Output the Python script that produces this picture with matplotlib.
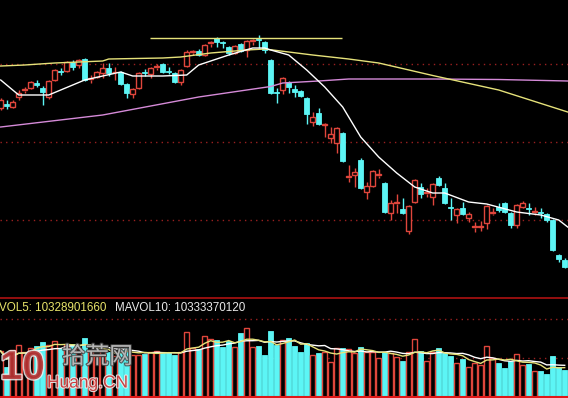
import matplotlib
matplotlib.use('Agg')
import matplotlib.pyplot as plt
import numpy as np
import pandas as pd
from matplotlib import patheffects as pe

# ---------------- data ----------------
opens = [4636, 4668, 4644, 4724, 4776, 4796, 4836, 4796, 4724, 4860,
         4928, 4932, 5004, 4980, 5028, 4864, 4884, 4916, 4956, 4920,
         4924, 4828, 4748, 4796, 4920, 4908, 4960, 4988, 4928, 4916,
         4844, 4972, 5080, 5092, 5060, 5152, 5196, 5160, 5124, 5076,
         5148, 5100, 5168, 5184, 5164, 5020, 4760, 4780, 4844, 4788,
         4772, 4716, 4524, 4596, 4500, 4396, 4356, 4436, 4080, 4100,
         4220, 3964, 4012, 4096, 4036, 3796, 3872, 3828, 3652, 3884,
         4004, 3952, 3924, 4076, 3996, 3840, 3780, 3836, 3756, 3680,
         3684, 3716, 3792, 3844, 3876, 3796, 3700, 3844, 3832, 3800,
         3800, 3788, 3740, 3460, 3420]
highs = [4716, 4700, 4700, 4780, 4804, 4852, 4860, 4812, 4860, 4948,
         4956, 5012, 5020, 5028, 5036, 4900, 4932, 4996, 4996, 4964,
         4932, 4836, 4796, 4924, 4948, 4964, 4988, 4996, 4964, 4924,
         4948, 5100, 5100, 5108, 5148, 5172, 5204, 5172, 5132, 5140,
         5156, 5180, 5188, 5220, 5172, 5028, 4796, 4884, 4852, 4820,
         4780, 4724, 4604, 4636, 4516, 4484, 4484, 4444, 4180, 4156,
         4236, 4044, 4140, 4148, 4044, 3900, 3948, 3916, 3860, 4068,
         4036, 3996, 4036, 4092, 4036, 3916, 3836, 3884, 3804, 3724,
         3732, 3860, 3836, 3876, 3884, 3804, 3868, 3892, 3876, 3844,
         3836, 3796, 3748, 3468, 3436]
lows = [4620, 4628, 4636, 4700, 4756, 4788, 4804, 4660, 4708, 4852,
        4900, 4924, 4940, 4956, 4852, 4836, 4876, 4876, 4892, 4860,
        4820, 4716, 4716, 4788, 4892, 4876, 4940, 4916, 4908, 4836,
        4820, 4964, 5060, 5052, 5052, 5124, 5124, 5116, 5060, 5068,
        5084, 5044, 5140, 5116, 5076, 4748, 4676, 4748, 4756, 4724,
        4724, 4508, 4492, 4500, 4404, 4356, 4276, 4204, 4044, 4004,
        3988, 3908, 4004, 4076, 3796, 3740, 3796, 3788, 3628, 3876,
        3916, 3924, 3860, 4012, 3868, 3740, 3716, 3780, 3724, 3644,
        3652, 3668, 3780, 3804, 3796, 3676, 3676, 3836, 3780, 3780,
        3756, 3724, 3492, 3404, 3356]
closes = [4700, 4652, 4684, 4756, 4784, 4844, 4820, 4764, 4852, 4940,
          4920, 5004, 4964, 5020, 4860, 4872, 4924, 4956, 4916, 4924,
          4828, 4756, 4788, 4916, 4912, 4956, 4968, 4924, 4920, 4844,
          4940, 5084, 5088, 5060, 5140, 5160, 5164, 5152, 5076, 5132,
          5092, 5172, 5176, 5176, 5100, 4756, 4752, 4876, 4804, 4764,
          4732, 4588, 4564, 4508, 4508, 4428, 4476, 4212, 4088, 4124,
          3996, 4012, 4132, 4104, 3804, 3876, 3880, 3796, 3852, 4060,
          3948, 3960, 4028, 4020, 3876, 3832, 3828, 3788, 3788, 3688,
          3692, 3852, 3800, 3820, 3804, 3700, 3860, 3876, 3824, 3808,
          3792, 3740, 3500, 3428, 3364]
# volume in 1e8 (亿)
volumes = [158, 103, 162, 179, 155, 169, 175, 189, 179, 193,
           165, 179, 182, 169, 203, 155, 141, 162, 155, 141,
           162, 169, 144, 144, 148, 155, 158, 151, 151, 144,
           155, 224, 169, 165, 210, 200, 196, 172, 193, 172,
           220, 237, 172, 175, 144, 227, 179, 196, 203, 175,
           155, 186, 144, 151, 155, 120, 169, 169, 165, 151,
           172, 155, 155, 134, 155, 151, 138, 124, 155, 200,
           158, 124, 155, 169, 151, 141, 117, 131, 103, 117,
           110, 175, 134, 117, 100, 124, 148, 110, 114, 89,
           89, 79, 141, 103, 93]

ma_white_idx = [0, 3, 8, 14, 20, 22, 27, 31, 33, 38, 42, 44, 45, 48, 51,
                54, 57, 59, 60, 63, 66, 69, 72, 74, 78, 81, 86, 90, 93, 94.5]
ma_white = [4860, 4740, 4740, 4860, 4924, 4892, 4892, 4900, 4980, 5060,
            5116, 5116, 5100, 5060, 4940, 4804, 4644, 4484, 4404, 4244,
            4116, 4004, 3956, 3956, 3884, 3868, 3804, 3780, 3740, 3684]
ma_yellow_idx = [0, 4, 9, 17, 18, 27, 30, 35, 41, 44, 48, 52, 58, 63, 72, 83, 94.5]
ma_yellow = [4972, 4980, 4996, 5012, 5028, 5036, 5044, 5076, 5100, 5108,
             5084, 5060, 5028, 4996, 4896, 4780, 4604]
ma_pink_idx = [0, 17, 33, 45, 47, 53, 58, 72, 83, 94.5]
ma_pink = [4484, 4580, 4724, 4808, 4836, 4852, 4868, 4868, 4864, 4852]

top_line_range = [24.9, 56.9]
top_line_value = 5196

price_grid = [4988, 4364, 3740]
vol_grid = [268, 134]
vol_label_5 = "VOL5: 10328901660"
vol_label_10 = "MAVOL10: 10333370120"

# ---------------- style ----------------
RED = '#e0463c'
CYAN = '#5cf5f5'
GRID = '#9a2020'
W = 568
H = 398

fig = plt.figure(figsize=(W / 100, H / 100), dpi=100, facecolor='black')
ax = fig.add_axes([0, 101 / H, 1, 297 / H], facecolor='black')
axv = fig.add_axes([0, 0, 1, 101 / H], facecolor='black')
for a in (ax, axv):
    a.set_xlim(-0.117, 94.55)
    a.set_xticks([])
    a.set_yticks([])
    for s in a.spines.values():
        s.set_visible(False)
ax.set_ylim(3124, 5500)
axv.set_ylim(-3.44, 344)

o = np.array(opens, float)
h = np.array(highs, float)
l = np.array(lows, float)
c = np.array(closes, float)
v = np.array(volumes, float)
idx = np.arange(len(o))
up = c >= o
blo = np.minimum(o, c)
bhi = np.maximum(o, c)
bh = np.maximum(bhi - blo, 5)

for g in price_grid:
    ax.axhline(g, color=GRID, lw=1, ls=(0, (1, 3)), zorder=0)

# down candles
ax.vlines(idx[~up], l[~up], h[~up], color=CYAN, lw=1, zorder=2)
ax.bar(idx[~up], bh[~up], bottom=blo[~up], width=0.8, color=CYAN,
       edgecolor=CYAN, lw=0.6, zorder=3)
# up candles (hollow)
ax.vlines(idx[up], bhi[up], h[up], color=RED, lw=1, zorder=2)
ax.vlines(idx[up], l[up], blo[up], color=RED, lw=1, zorder=2)
ax.bar(idx[up], bh[up], bottom=blo[up], width=0.75, facecolor='black',
       edgecolor=RED, lw=1.0, zorder=3)

ax.plot(ma_pink_idx, ma_pink, color='#d58ad8', lw=1, zorder=4)
ax.plot(ma_yellow_idx, ma_yellow, color='#e6e27a', lw=1, zorder=4)
ax.plot(ma_white_idx, ma_white, color='white', lw=1, zorder=4)
ax.hlines(top_line_value, top_line_range[0], top_line_range[1],
          color='#e6e27a', lw=1, zorder=4)

# volume panel
axv.axhline(342, color='#a01010', lw=1.3, zorder=0)
for g in vol_grid:
    axv.axhline(g, color=GRID, lw=1, ls=(0, (1, 3)), zorder=0)
axv.axhline(0, color='#e01818', lw=1.5, zorder=5)
axv.bar(idx[~up], v[~up], width=0.8, color=CYAN, edgecolor=CYAN, lw=0.6, zorder=2)
axv.bar(idx[up], v[up], width=0.75, facecolor='black', edgecolor=RED, lw=1.0, zorder=2)
vs = pd.Series(v)
axv.plot(idx, vs.rolling(10, min_periods=1).mean(), color='white', lw=1, zorder=3)
axv.plot(idx, vs.rolling(5, min_periods=1).mean(), color='#e6e27a', lw=1, zorder=3)

fig.text(-1 / W, 1 - 308 / H, vol_label_5, color='#e8e46a', fontsize=8.4,
         family='Liberation Sans', va='center', ha='left')
fig.text(115 / W, 1 - 308 / H, vol_label_10, color='#e8e8e8', fontsize=8.4,
         family='Liberation Sans', va='center', ha='left')

# watermark
stroke = [pe.withStroke(linewidth=2, foreground='#f0f0f0')]
fig.text(0 / W, 1 - 368 / H, "10", color='#b03030', fontsize=29, fontweight='bold',
         family='Liberation Sans', va='center', ha='left', alpha=0.85,
         path_effects=stroke, zorder=10)
fig.text(62 / W, 1 - 357 / H, "拾荒网", color='#c8c8c8', fontsize=17,
         family='Noto Sans CJK SC', va='center', ha='left', alpha=0.85, zorder=10,
         path_effects=[pe.withStroke(linewidth=1.5, foreground='#404040')])
fig.text(47 / W, 1 - 383 / H, "Huang.CN", color='#c03030', fontsize=12.5,
         family='Liberation Sans', va='center', ha='left', alpha=0.9, zorder=10,
         path_effects=[pe.withStroke(linewidth=1.5, foreground='#f0f0f0')])

fig.savefig('out.png', dpi=100, facecolor='black')
